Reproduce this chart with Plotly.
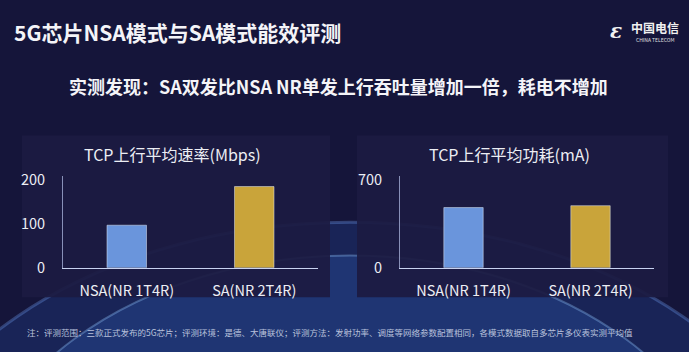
import plotly.graph_objects as go

W, H = 689, 352
categories = ["NSA(NR 1T4R)", "SA(NR 2T4R)"]
rate_mbps = [97, 185]
power_ma = [480, 495]
bar_colors = ["#6a95dc", "#c9a43a"]
rate_ticks = [0, 100, 200]
power_ticks = [0, 700]

title = "5G芯片NSA模式与SA模式能效评测"
subtitle = "实测发现：SA双发比NSA NR单发上行吞吐量增加一倍，耗电不增加"
left_title = "TCP上行平均速率(Mbps)"
right_title = "TCP上行平均功耗(mA)"
footnote = "注：评测范围：三款正式发布的5G芯片；评测环境：是德、大唐联仪；评测方法：发射功率、调度等网络参数配置相同，各模式数据取自多芯片多仪表实测平均值"

FONT = "Noto Sans CJK SC"
TXT = "#eceef4"

def px(x):
    return x / W

def py(y):
    return 1 - y / H

fig = go.Figure()
fig.add_trace(go.Bar(x=categories, y=rate_mbps, marker_color=bar_colors, width=0.31,
                     xaxis="x", yaxis="y", showlegend=False))
fig.add_trace(go.Bar(x=categories, y=power_ma, marker_color=bar_colors, width=0.31,
                     xaxis="x2", yaxis="y2", showlegend=False))

shapes = []
# background glow (decorative)
shapes.append(dict(type="circle", xref="paper", yref="paper", layer="below",
                   x0=px(-120), x1=px(820), y0=py(900), y1=py(225),
                   fillcolor="rgba(40,85,175,0.25)", line=dict(color="rgba(120,170,255,0.3)", width=3)))
shapes.append(dict(type="circle", xref="paper", yref="paper", layer="below",
                   x0=px(-40), x1=px(740), y0=py(860), y1=py(260),
                   fillcolor="rgba(50,105,200,0.25)", line=dict(color="rgba(150,200,255,0.35)", width=2)))
# panels
for x0, x1 in [(22, 330), (357, 668)]:
    shapes.append(dict(type="rect", xref="paper", yref="paper", layer="below",
                       x0=px(x0), x1=px(x1), y0=py(304), y1=py(134),
                       fillcolor="rgba(28,27,66,0.93)", line=dict(width=0)))

annotations = [
    dict(text="<b>%s</b>" % title, x=px(12), y=py(25), xanchor="left", yanchor="middle",
         font=dict(size=21, color="#f4f4f8", family=FONT)),
    dict(text="<b>%s</b>" % subtitle, x=px(338), y=py(82), xanchor="center", yanchor="middle",
         font=dict(size=18, color="#f4f4f8", family=FONT)),
    dict(text=left_title, x=px(173), y=py(153), xanchor="center", yanchor="middle",
         font=dict(size=16, color=TXT, family=FONT)),
    dict(text=right_title, x=px(510), y=py(153), xanchor="center", yanchor="middle",
         font=dict(size=16, color=TXT, family=FONT)),
    dict(text=footnote, x=px(25), y=py(340), xanchor="left", yanchor="middle",
         font=dict(size=8.5, color="#b9c2dc", family=FONT)),
    dict(text="<b>中国电信</b>", x=px(655), y=py(21), xanchor="center", yanchor="middle",
         font=dict(size=12, color="#f0f0f0", family=FONT)),
    dict(text="CHINA TELECOM", x=px(655), y=py(33), xanchor="center", yanchor="middle",
         font=dict(size=5, color="#e0e0e0", family=FONT)),
    dict(text="<b><i>ε</i></b>", x=px(616), y=py(24), xanchor="center", yanchor="middle",
         font=dict(size=20, color="#f0f0f0", family="DejaVu Serif")),
]
for a in annotations:
    a.update(xref="paper", yref="paper", showarrow=False)

ydom = [py(273), py(177)]
axis_common = dict(showgrid=False, zeroline=False, showline=True, linewidth=1,
                   tickfont=dict(size=14.5, color=TXT, family=FONT), ticks="")
xline = "#c8d2f0"
yline = "#8890b8"

fig.update_layout(
    width=W, height=H, margin=dict(l=0, r=0, t=0, b=0),
    paper_bgcolor="#15153a", plot_bgcolor="rgba(0,0,0,0)",
    shapes=shapes, annotations=annotations,
    xaxis=dict(domain=[px(63), px(318)], anchor="y", range=[-0.5, 1.5], linecolor=xline,
               ticklabelstandoff=10, **axis_common),
    yaxis=dict(domain=ydom, anchor="x", range=[0, 208], tickvals=rate_ticks, linecolor=yline,
               ticklabelstandoff=14, **axis_common),
    xaxis2=dict(domain=[px(400), px(654)], anchor="y2", range=[-0.5, 1.5], linecolor=xline,
                ticklabelstandoff=10, **axis_common),
    yaxis2=dict(domain=ydom, anchor="x2", range=[0, 728], tickvals=power_ticks, linecolor=yline,
                ticklabelstandoff=14, **axis_common),
)
fig.write_html("out.html")
